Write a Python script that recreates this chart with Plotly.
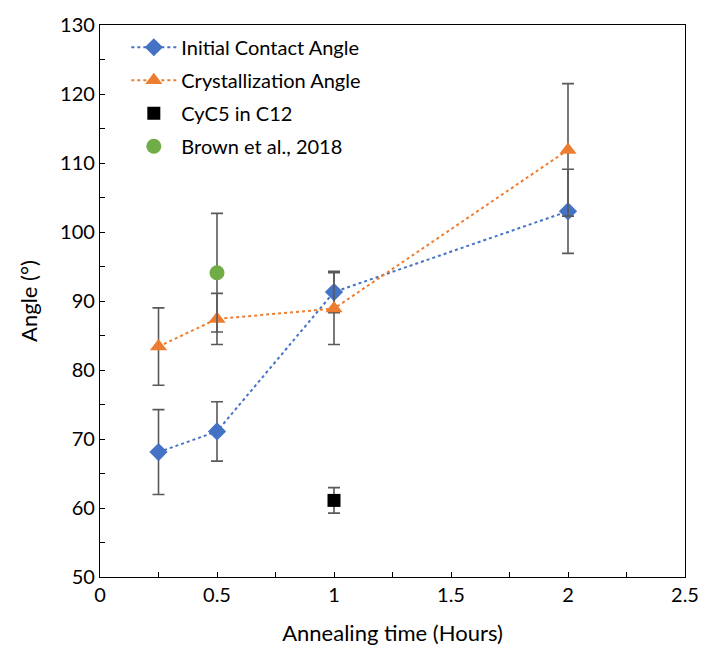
import plotly.graph_objects as go

x_main = [0.25, 0.5, 1, 2]
initial_angle = [68.1, 71.1, 91.3, 103.0]
initial_err = [6.15, 4.3, 3.0, 6.1]
cryst_angle = [83.4, 87.4, 88.9, 111.9]
cryst_err = [5.6, 3.7, 5.2, 9.6]
cyc5_x = [1]
cyc5_angle = [61.1]
cyc5_err = [1.85]
brown_x = [0.5]
brown_angle = [94.1]
brown_err = [8.6]

FONT = "Lato"
ERRC = "#595959"

def err(vals):
    return dict(type="data", array=vals, visible=True, color=ERRC, thickness=1.6, width=6)

fig = go.Figure()
fig.add_trace(go.Scatter(x=x_main, y=initial_angle, name="Initial Contact Angle",
                         legendgroup="a", mode="lines+markers", error_y=err(initial_err),
                         line=dict(color="#4472C4", width=2, dash="dot"),
                         marker=dict(symbol="diamond", size=14, color="#4472C4")))
fig.add_trace(go.Scatter(x=x_main, y=cryst_angle, name="Crystallization Angle",
                         legendgroup="b", mode="lines+markers", error_y=err(cryst_err),
                         line=dict(color="#ED7D31", width=2, dash="dot"),
                         marker=dict(symbol="triangle-up", size=15, color="#ED7D31")))
fig.add_trace(go.Scatter(x=cyc5_x, y=cyc5_angle, name="CyC5 in C12",
                         legendgroup="c", mode="markers", error_y=err(cyc5_err),
                         marker=dict(symbol="square", size=13, color="#000000")))
fig.add_trace(go.Scatter(x=brown_x, y=brown_angle, name="Brown et al., 2018",
                         legendgroup="d", mode="markers", error_y=err(brown_err),
                         marker=dict(symbol="circle", size=15, color="#70AD47")))

fig.update_layout(
    width=714, height=658,
    margin=dict(l=100, r=29, t=20, b=81),
    paper_bgcolor="white", plot_bgcolor="white",
    font=dict(family=FONT, size=20, color="#000000"),
    showlegend=True,
    legend=dict(x=0.045, y=0.995, xanchor="left", yanchor="top",
                bgcolor="rgba(0,0,0,0)", font=dict(size=20, family=FONT),
                itemwidth=45, tracegroupgap=4),
)
fig.update_xaxes(range=[0, 2.5], dtick=0.5, tick0=0,
                 showline=True, mirror=True, linecolor="#000000", linewidth=1.3,
                 ticks="inside", ticklen=5, tickcolor="#000000",
                 minor=dict(dtick=0.25, ticks="inside", ticklen=5, tickcolor="#000000"),
                 showgrid=False, zeroline=False,
                 title=dict(text="Annealing time (Hours)", font=dict(size=22), standoff=20))
fig.update_yaxes(range=[50, 130], dtick=10, tick0=50,
                 showline=True, mirror=True, linecolor="#000000", linewidth=1.3,
                 ticks="inside", ticklen=5, tickcolor="#000000",
                 minor=dict(dtick=5, ticks="inside", ticklen=5, tickcolor="#000000"),
                 showgrid=False, zeroline=False,
                 title=dict(text="Angle (°)", font=dict(size=22), standoff=16))

fig.write_html("out.html")
